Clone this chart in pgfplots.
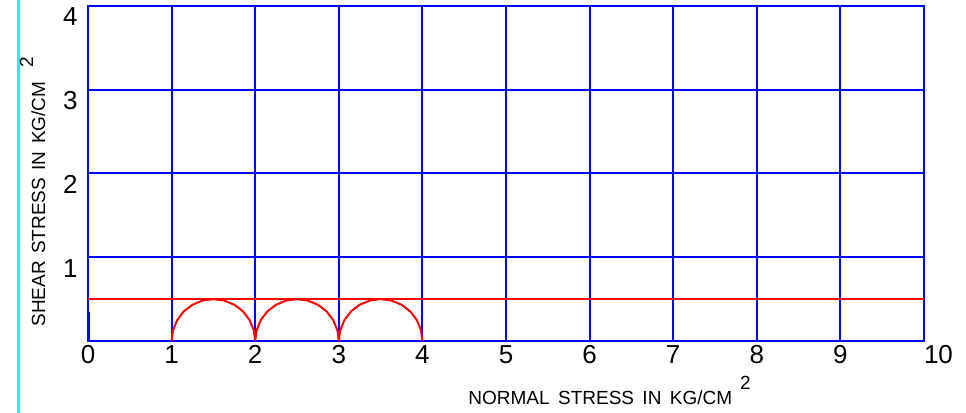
\documentclass[border=0pt]{standalone}
\usepackage{fontspec}
\setmainfont{Liberation Sans}
\usepackage{pgfplots}
\pgfplotsset{compat=1.18}
\usepackage{graphicx}

% semicircle outlines (r = 0.5)
\pgfplotstableread{
x y
1.000 0.000
1.017 0.129
1.067 0.250
1.146 0.354
1.250 0.433
1.371 0.483
1.500 0.500
1.629 0.483
1.750 0.433
1.854 0.354
1.933 0.250
1.983 0.129
2.000 0.000
}\circA
\pgfplotstableread{
x y
2.000 0.000
2.017 0.129
2.067 0.250
2.146 0.354
2.250 0.433
2.371 0.483
2.500 0.500
2.629 0.483
2.750 0.433
2.854 0.354
2.933 0.250
2.983 0.129
3.000 0.000
}\circB
\pgfplotstableread{
x y
3.000 0.000
3.017 0.129
3.067 0.250
3.146 0.354
3.250 0.433
3.371 0.483
3.500 0.500
3.629 0.483
3.750 0.433
3.854 0.354
3.933 0.250
3.983 0.129
4.000 0.000
}\circC

\definecolor{cadblue}{RGB}{0,0,255}
\definecolor{cadred}{RGB}{255,0,0}
\definecolor{cadcyan}{RGB}{0,255,255}

\begin{document}
\begin{tikzpicture}
\path[use as bounding box] (0,0) rectangle (483pt,206.5pt);
\draw[cadcyan, line width=1.5pt] (9pt,0) -- (9pt,206.5pt);
\begin{axis}[
    at={(44pt,36pt)}, anchor=south west,
    scale only axis,
    width=418pt, height=167.5pt,
    xmin=0, xmax=10, ymin=0, ymax=4,
    xtick={0,...,10},
    xticklabels={0,1,2,3,4,5,6,7,8,9,\makebox[0pt][l]{10}},
    ytick={1,2,3,4},
    yticklabels={1,2,3,4},
    grid=major,
    grid style={cadblue, line width=1pt},
    axis line style={cadblue, line width=1pt},
    major tick length=0pt,
    ticklabel style={font=\fontsize{13}{13}\selectfont, inner sep=0pt},
    xticklabel style={anchor=north, yshift=-2pt},
    yticklabel style={anchor=north east, xshift=-5pt, yshift=-0.8pt},
  ]
  \addplot[cadblue, line width=2pt] coordinates {(0,0) (0,0.35)};
  \addplot[cadred, line width=0.9pt] coordinates {(0,0.5) (10,0.5)};
  \addplot[cadred, line width=1pt] table {\circA};
  \addplot[cadred, line width=1pt] table {\circB};
  \addplot[cadred, line width=1pt] table {\circC};
\end{axis}
\node[anchor=base west, inner sep=0pt, font=\fontsize{9.5}{9.5}\selectfont]
  at (234pt,4pt) {NORMAL\hspace{4.2pt}STRESS\hspace{4.2pt}IN\hspace{4.2pt}KG/CM\hspace{4pt}\raisebox{7.5pt}{2}};
\node[anchor=base west, inner sep=0pt, rotate=90, font=\fontsize{9.5}{9.5}\selectfont]
  at (22.5pt,43pt) {SHEAR\hspace{3.7pt}STRESS\hspace{3.7pt}IN\hspace{3.7pt}KG/CM\hspace{7pt}\raisebox{6pt}{2}};
\end{tikzpicture}
\end{document}
